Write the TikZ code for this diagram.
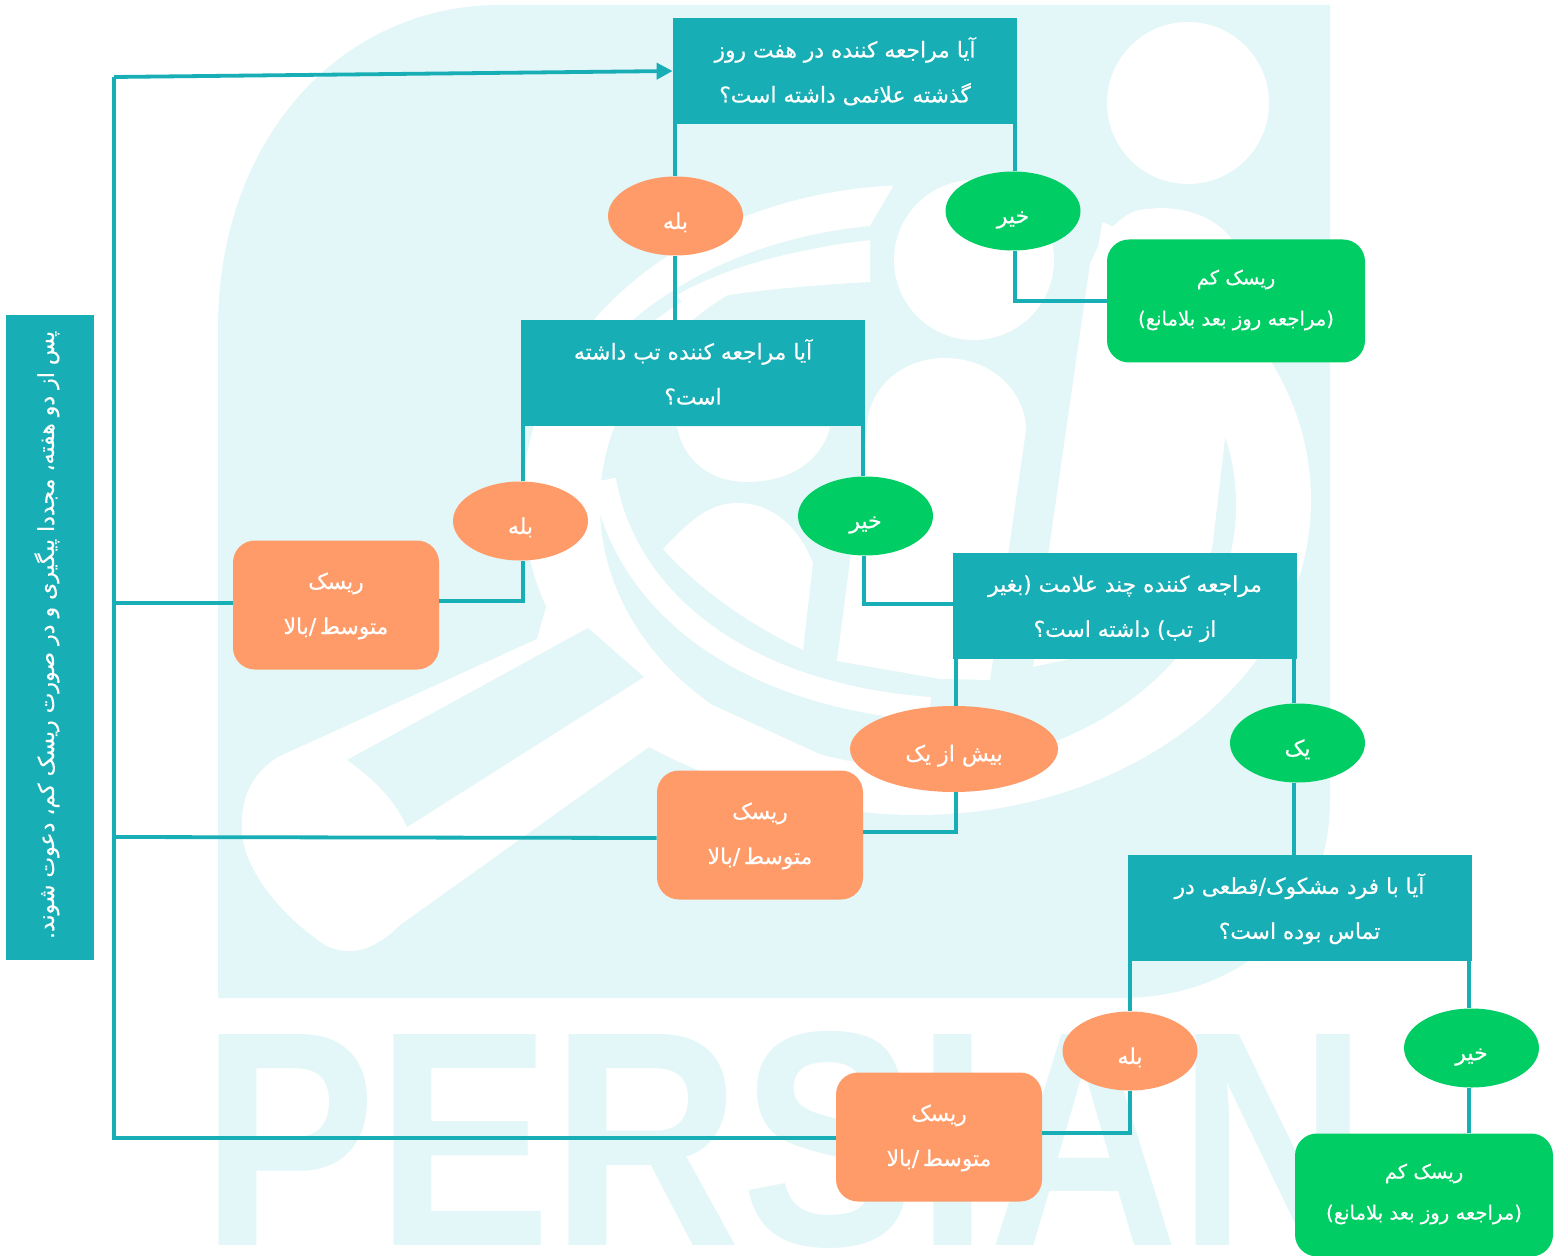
\documentclass[tikz,border=0pt]{standalone}
\usepackage{fontspec}
\usetikzlibrary{shapes.geometric,arrows.meta}
\setmainfont{DejaVu Sans}
\newfontfamily\arabicfont[Script=Arabic,FakeBold=0.5]{DejaVu Sans}
\newfontfamily\wmfont{Liberation Sans}
\TeXXeTstate=1
\definecolor{teal}{HTML}{17AEB5}
\definecolor{orng}{HTML}{FF9B68}
\definecolor{grn}{HTML}{00CE65}
\definecolor{wm}{HTML}{E3F6F8}
\newcommand{\fat}{13pt}
\newcommand{\fad}{2pt}
\newcommand{\fa}[1]{\rule[-\fad]{0pt}{\fat}\arabicfont\beginR #1\endR}
\tikzset{
 x=0.5pt,y=-0.5pt,
 strutsize/.style n args={2}{execute at begin node={\def\fat{#1}\def\fad{#2}}},
 qbox/.style={fill=teal,minimum width=172pt,minimum height=53pt,inner sep=0pt,text=white,align=center,font=\fontsize{10.9pt}{22.5pt}\selectfont},
 rbox/.style={rounded corners=11pt,minimum width=103pt,minimum height=64.5pt,inner sep=0pt,text=white,align=center,font=\fontsize{10.9pt}{22.5pt}\selectfont},
 hi/.style={rbox,fill=orng,strutsize={15.5pt}{4.5pt}},
 lo/.style={rbox,fill=grn,minimum width=129pt,minimum height=61.5pt,font=\fontsize{9.8pt}{20.5pt}\selectfont,strutsize={18pt}{7pt}},
 oval/.style={ellipse,minimum width=67.5pt,minimum height=39.5pt,inner sep=0pt,text=white,font=\fontsize{11pt}{12pt}\selectfont,strutsize={17pt}{2pt}},
 yes/.style={oval,fill=orng},
 no/.style={oval,fill=grn},
 link/.style={draw=teal,line width=1.9pt},
 wmwhite/.style={fill=white,draw=none},
 wmpale/.style={fill=wm,draw=none},
}
\begin{document}
\begin{tikzpicture}
\useasboundingbox (0,0) rectangle (1556,1256);
% watermark
\fill[wm] (218,998) -- (218,328) .. controls (218,140) and (340,5) .. (500,5) -- (1330,5) -- (1330,800) .. controls (1330,920) and (1240,998) .. (1120,998) -- cycle;
\fill[wmwhite] (917,500) ellipse[x radius=394,y radius=315];
\fill[wmpale] (918,505) ellipse[x radius=318,y radius=262];
\fill[wmpale] (897,180) -- (1110,180) -- (1090,290) -- (1000,290) -- (870,245) -- (870,226) -- cycle;
\draw[wm,line width=7pt] (632,330) .. controls (700,270) and (790,240) .. (872,233);
\fill[wmwhite] (677,295) .. controls (730,265) and (800,248) .. (870,241) -- (870,282) .. controls (800,286) and (730,292) .. (683,304) -- cycle;
\draw[white,line width=12pt] (604,480) .. controls (625,600) and (740,695) .. (930,709);
\fill[wmwhite] (1188,103) circle[radius=81];
\fill[wmwhite] (974,260) circle[radius=80];
\fill[wmwhite] (867,429) .. controls (867,390) and (900,358) .. (945,358) .. controls (995,358) and (1026,395) .. (1026,430) -- (990,680) -- (940,679) -- (837,661) -- cycle;
\fill[wmwhite] (1090,264) .. controls (1105,225) and (1130,209) .. (1147,209) .. controls (1180,205) and (1215,215) .. (1232,240) -- (1233,370) -- (1212,550) -- (1156,640) -- (1033,667) -- (1050,542) -- cycle;
\fill[wmwhite] (677,427) .. controls (685,465) and (715,482) .. (747,482) .. controls (785,482) and (820,465) .. (830,427) -- cycle;
\fill[wmwhite] (663,549) .. controls (690,520) and (710,503) .. (737,503) .. controls (775,503) and (800,530) .. (813,563) -- (803,650) .. controls (750,625) and (700,590) .. (663,549) -- cycle;
% hand
\fill[wmwhite] (278,757) -- (537,639) -- (548,600) -- (680,690) -- (854,770) -- (854,812) .. controls (780,800) and (710,780) .. (649,747) -- (400,925) .. controls (375,950) and (350,958) .. (325,945) .. controls (280,915) and (245,870) .. (242,833) .. controls (240,800) and (250,775) .. (278,757) -- cycle;
\fill[wmpale] (347,760) -- (588,628) -- (644,677) -- (407,827) .. controls (395,800) and (375,780) .. (347,760) -- cycle;
\node[inner sep=0pt,text=wm] (wmtext) at (785,1140) {\resizebox{583pt}{107pt}{\wmfont\bfseries PERSIAN}};
% nodes
\node[qbox] (q1) at (845,71) {\fa{آیا مراجعه کننده در هفت روز}\\\fa{گذشته علائمی داشته است؟}};
\node[qbox] (q2) at (693,373) {\fa{آیا مراجعه کننده تب داشته}\\\fa{است؟}};
\node[qbox] (q3) at (1125,606) {\fa{مراجعه کننده چند علامت (بغیر}\\\fa{از تب) داشته است؟}};
\node[qbox] (q4) at (1299.5,908) {\fa{آیا با فرد مشکوک/قطعی در}\\\fa{تماس بوده است؟}};
\node[yes] (y1) at (675.5,216) {\fa{بله}};
\node[no] (n1) at (1013,211) {\fa{خیر}};
\node[yes] (y2) at (520.5,521) {\fa{بله}};
\node[no] (n2) at (865.5,516) {\fa{خیر}};
\node[yes,minimum width=104pt,minimum height=43pt] (y3) at (954,749) {\fa{بیش از یک}};
\node[no] (n3) at (1297.5,743) {\fa{یک}};
\node[yes] (y4) at (1130,1051) {\fa{بله}};
\node[no] (n4) at (1471.5,1048) {\fa{خیر}};
\node[lo] (l1) at (1236,301) {\fa{ریسک کم}\\\fa{(مراجعه روز بعد بلامانع)}};
\node[lo] (l2) at (1424,1195) {\fa{ریسک کم}\\\fa{(مراجعه روز بعد بلامانع)}};
\node[hi] (h1) at (336,605) {\fa{ریسک}\\\fa{متوسط\,/بالا}};
\node[hi] (h2) at (760,835) {\fa{ریسک}\\\fa{متوسط\,/بالا}};
\node[hi] (h3) at (939,1137) {\fa{ریسک}\\\fa{متوسط\,/بالا}};
\node[fill=teal,minimum width=44pt,minimum height=322.5pt,inner sep=0pt] (side) at (50,637.5) {};
\node[rotate=90,text=white,strutsize={18pt}{7pt},font=\fontsize{11pt}{12pt}\selectfont] (sidetext) at (50,635) {\fa{پس از دو هفته، مجددا پیگیری و در صورت ریسک کم، دعوت شوند.}};
% free corners
\coordinate (top) at (114,77);
\coordinate (a1) at (114,603);
\coordinate (a2) at (114,837);
\coordinate (a3) at (114,1138);
% connectors
\draw[link,-{Triangle[length=8pt,width=8pt]}] (top) -- (q1.west);
\draw[link] (top) -- (a3) -- (h3.west |- a3);
\draw[link] (a1) -- (h1.west |- a1);
\draw[link] (a2) -- (h2.west |- 0,838);
\draw[link] (675,0 |- q1.south) -- (675,0 |- y1.north);
\draw[link] (675,0 |- y1.south) -- (675,0 |- q2.north);
\draw[link] (1015,0 |- q1.south) -- (1015,0 |- n1.north);
\draw[link] (1015,0 |- n1.south) |- (l1.west);
\draw[link] (523,0 |- q2.south) -- (523,0 |- y2.north);
\draw[link] (523,0 |- y2.south) |- (h1.east |- 0,601);
\draw[link] (863,0 |- q2.south) -- (863,0 |- n2.north);
\draw[link] (864,0 |- n2.south) |- (q3.west |- 0,604);
\draw[link] (956,0 |- q3.south) -- (956,0 |- y3.north);
\draw[link] (956,0 |- y3.south) |- (h2.east |- 0,832);
\draw[link] (1294,0 |- q3.south) -- (1294,0 |- n3.north);
\draw[link] (1294,0 |- n3.south) -- (1294,0 |- q4.north);
\draw[link] (1130,0 |- q4.south) -- (1130,0 |- y4.north);
\draw[link] (1130,0 |- y4.south) |- (h3.east |- 0,1133);
\draw[link] (1469,0 |- q4.south) -- (1469,0 |- n4.north);
\draw[link] (1469,0 |- n4.south) -- (1469,0 |- l2.north);
\end{tikzpicture}
\end{document}
